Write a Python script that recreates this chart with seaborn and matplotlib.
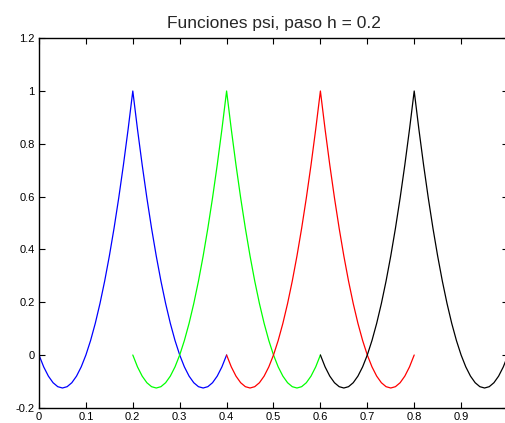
import numpy as np
import pandas as pd
import matplotlib
matplotlib.use("Agg")
import matplotlib.pyplot as plt
import seaborn as sns

psi_rise = [0, -0.045, -0.08, -0.105, -0.12, -0.125, -0.12, -0.105, -0.08, -0.045,
            0, 0.055, 0.12, 0.195, 0.28, 0.375, 0.48, 0.595, 0.72, 0.855, 1.0]
psi_fall = [0.855, 0.72, 0.595, 0.48, 0.375, 0.28, 0.195, 0.12, 0.055, 0,
            -0.045, -0.08, -0.105, -0.12, -0.125, -0.12, -0.105, -0.08, -0.045, 0]
psi_values = psi_rise + psi_fall

series_names = ["psi1", "psi2", "psi3", "psi4"]
series_start = [0.0, 0.2, 0.4, 0.6]
series_colors = ["#0000ff", "#00ff00", "#ff0000", "#000000"]

x_ticks = [0, 0.1, 0.2, 0.3, 0.4, 0.5, 0.6, 0.7, 0.8, 0.9, 1.0]
x_tick_labels = ["0", "0.1", "0.2", "0.3", "0.4", "0.5", "0.6", "0.7", "0.8", "0.9", ""]
y_ticks = [-0.2, 0, 0.2, 0.4, 0.6, 0.8, 1.0, 1.2]
y_tick_labels = ["-0.2", "0", "0.2", "0.4", "0.6", "0.8", "1", "1.2"]
title = "Funciones psi, paso h = 0.2"

rows = []
for name, start in zip(series_names, series_start):
    xs = np.round(start + 0.01 * np.arange(len(psi_values)), 4)
    for xv, yv in zip(xs, psi_values):
        rows.append({"x": xv, "y": yv, "serie": name})
df = pd.DataFrame(rows)

sns.set_style("ticks")
plt.rcParams["font.family"] = ["Liberation Sans", "DejaVu Sans"]
plt.rcParams["axes.unicode_minus"] = False

fig = plt.figure(figsize=(5.06, 4.23), dpi=100)
ax = fig.add_axes([39 / 506, 1 - 407.8 / 423, (508 - 39) / 506, (407.8 - 38.2) / 423])

sns.lineplot(data=df, x="x", y="y", hue="serie", palette=series_colors,
             hue_order=series_names, ax=ax, legend=False, linewidth=0.9,
             estimator=None, sort=False)

ax.set_xlim(0, 1)
ax.set_ylim(-0.2, 1.2)
ax.set_xticks(x_ticks)
ax.set_xticklabels(x_tick_labels)
ax.set_yticks(y_ticks)
ax.set_yticklabels(y_tick_labels)
ax.set_xlabel("")
ax.set_ylabel("")
ax.set_title(title, fontsize=12.5, pad=7)
for s in ax.spines.values():
    s.set_visible(True)
    s.set_linewidth(1.0)
    s.set_color("black")
ax.tick_params(direction="in", length=4, width=0.8, labelsize=8,
               top=True, right=True, colors="black", pad=3)

fig.savefig("out.png", dpi=100)
